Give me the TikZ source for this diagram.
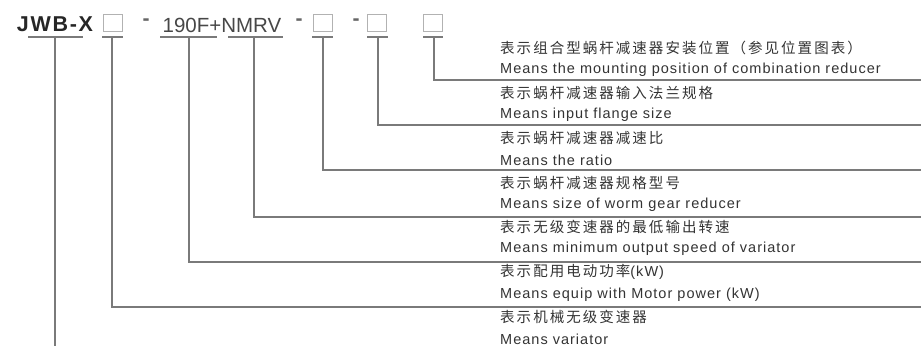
\documentclass[tikz,border=0pt]{standalone}
\usepackage{fontspec}
\setmainfont{Liberation Sans}
\newfontfamily\cjk{Noto Sans CJK SC}[LetterSpace=14]
\newfontfamily\en{Liberation Sans}[LetterSpace=7]
\newfontfamily\hd{Liberation Sans}[LetterSpace=8]
\definecolor{leadgray}{HTML}{7A7A7A}
\definecolor{txtgray}{HTML}{333333}
\begin{document}
\begin{tikzpicture}[x=1pt,y=-1pt,
    lead/.style={draw=leadgray,line width=1.2pt},
    slot/.style={draw=gray!60,line width=0.8pt,minimum width=19pt,minimum height=17pt,inner sep=0pt},
    hyph/.style={text=black!60,font=\bfseries\fontsize{21}{21}\selectfont,inner sep=0pt},
    zh/.style={anchor=west,inner sep=0pt,text=txtgray,font=\cjk\fontsize{14.5}{15}\selectfont},
    en/.style={anchor=west,inner sep=0pt,text=txtgray,font=\en\fontsize{14.5}{15}\selectfont}]
    \useasboundingbox (0,0) rectangle (921,346);
    % type code
    \node[font=\hd\bfseries\fontsize{21.5}{22}\selectfont,text=black!85,inner sep=0pt](1)at(55,24){JWB-X};
    \node[slot](2)at(112.5,23){};
    \node[hyph](d1)at(146,22){-};
    \node[font=\fontsize{20.5}{21}\selectfont,text=black!72,inner sep=0pt](3)at(222,25){190F+NMRV};
    \node[hyph](d2)at(299,22){-};
    \node[slot](5)at(322.5,23){};
    \node[hyph](d3)at(356,22){-};
    \node[slot](6)at(376.5,23){};
    \node[slot](7)at(433,23){};
    % underlines
    \draw[lead](28,37)--(83,37);
    \draw[lead](102,37)--(123,37);
    \draw[lead](160,37)--(217,37);
    \draw[lead](228,37)--(283,37);
    \draw[lead](312,37)--(333,37);
    \draw[lead](367,37)--(388,37);
    \draw[lead](423,37)--(443,37);
    \coordinate(t1)at(55,37);
    \coordinate(t2)at(112,37);
    \coordinate(t3)at(189,37);
    \coordinate(t4)at(254,37);
    \coordinate(t5)at(323,37);
    \coordinate(t6)at(378,37);
    \coordinate(t7)at(434,37);
    % line ends
    \coordinate(e1)at(55,346);
    \coordinate(e2)at(921,307);
    \coordinate(e3)at(921,262);
    \coordinate(e4)at(921,217);
    \coordinate(e5)at(921,170);
    \coordinate(e6)at(921,125);
    \coordinate(e7)at(921,80);
    \draw[lead](t1)--(e1);
    \draw[lead](t2)|-(e2);
    \draw[lead](t3)|-(e3);
    \draw[lead](t4)|-(e4);
    \draw[lead](t5)|-(e5);
    \draw[lead](t6)|-(e6);
    \draw[lead](t7)|-(e7);
    % descriptions
    \node[zh](z7)at(500,48){表示组合型蜗杆减速器安装位置（参见位置图表）};
    \node[en](n7)at(500,70){Means the mounting position of combination reducer};
    \node[zh](z6)at(500,93){表示蜗杆减速器输入法兰规格};
    \node[en](n6)at(500,115){Means input flange size};
    \node[zh](z5)at(500,138){表示蜗杆减速器减速比};
    \node[en](n5)at(500,160){Means the ratio};
    \node[zh](z4)at(500,183){表示蜗杆减速器规格型号};
    \node[en](n4)at(500,205){Means size of worm gear reducer};
    \node[zh](z3)at(500,227){表示无级变速器的最低输出转速};
    \node[en](n3)at(500,249){Means minimum output speed of variator};
    \node[zh](z2)at(500,272){表示配用电动功率{\en(kW)}};
    \node[en](n2)at(500,295){Means equip with Motor power (kW)};
    \node[zh](z1)at(500,317){表示机械无级变速器};
    \node[en](n1)at(500,339){Means variator};
\end{tikzpicture}
\end{document}
